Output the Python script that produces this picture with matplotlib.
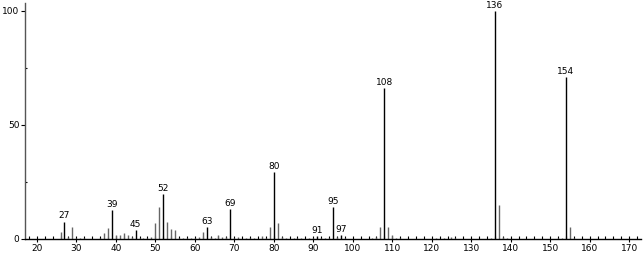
import numpy as np
import matplotlib.pyplot as plt
from matplotlib.ticker import MultipleLocator

# mass spectrum: m/z and relative intensity (%)
mz = [26, 27, 28, 29, 30, 31, 32, 36, 37, 38, 39, 40, 41, 42, 43, 44, 45, 46, 47,
      48, 49, 50, 51, 52, 53, 54, 55, 56, 57, 58, 59, 60, 61, 62, 63, 64, 65, 66,
      67, 68, 69, 70, 71, 73, 74, 75, 77, 78, 79, 80, 81, 82, 83, 85, 86, 87, 89,
      90, 91, 92, 93, 94, 95, 96, 97, 98, 105, 106, 107, 108, 109, 110, 111, 112,
      121, 123, 125, 126, 135, 136, 137, 138, 139, 152, 153, 154, 155, 156]
intensity = [2.9, 7.6, 1.0, 5.4, 0.5, 0.5, 0.5, 0.5, 2.5, 4.7, 12.7, 1.8, 1.8, 2.5,
             1.8, 1.0, 3.9, 0.5, 0.5, 0.5, 0.7, 7.2, 13.9, 19.7, 7.6, 4.2, 4.0, 0.5,
             0.5, 0.5, 0.5, 0.5, 1.0, 3.2, 5.1, 0.7, 0.5, 1.8, 1.0, 0.7, 13.0, 0.5,
             0.8, 0.5, 0.5, 0.5, 1.2, 0.5, 5.4, 29.4, 6.9, 0.7, 0.5, 0.3, 0.5, 0.5,
             0.4, 0.5, 1.3, 0.5, 0.5, 0.5, 13.9, 0.7, 1.8, 0.5, 0.3, 0.7, 5.4, 66.1,
             5.4, 1.8, 0.6, 0.3, 0.3, 0.4, 0.7, 0.4, 0.3, 100.0, 14.9, 0.9, 0.3,
             0.3, 0.4, 70.9, 5.4, 0.6]
labeled = [27, 39, 45, 52, 63, 69, 80, 91, 95, 97, 108, 136, 154]

fig = plt.figure(figsize=(6.44, 2.56), dpi=100)
ax = fig.add_axes([25 / 644, 17 / 256, 616 / 644, 236 / 256])

lookup = dict(zip(mz, intensity))
for m, h in zip(mz, intensity):
    col = 'black' if m in labeled else '#666666'
    ax.vlines(m, 0, h, color=col, lw=1.0)

for m in labeled:
    ax.annotate(str(m), (m, lookup[m]), xytext=(0, 1), textcoords='offset points',
                ha='center', va='bottom', fontsize=6.5, annotation_clip=False)

ax.set_xlim(17, 173)
ax.set_ylim(0, 103.5)
ax.xaxis.set_major_locator(MultipleLocator(10))
ax.xaxis.set_minor_locator(MultipleLocator(2))
ax.set_yticks([0, 50, 100])
ax.yaxis.set_minor_locator(MultipleLocator(25))
ax.tick_params(axis='x', which='major', direction='inout', length=5, width=0.8,
               labelsize=6.5, pad=1)
ax.tick_params(axis='x', which='minor', direction='in', length=2, width=0.8)
ax.tick_params(axis='y', which='major', direction='out', length=3, width=0.8,
               labelsize=6.5, pad=1)
ax.tick_params(axis='y', which='minor', direction='in', length=1.5, width=0.8)
for s in ['top', 'right']:
    ax.spines[s].set_visible(False)
ax.spines['left'].set_color('#555555')
ax.spines['bottom'].set_color('black')
for s in ['left', 'bottom']:
    ax.spines[s].set_linewidth(1.0)

fig.savefig('out.png', dpi=100)
